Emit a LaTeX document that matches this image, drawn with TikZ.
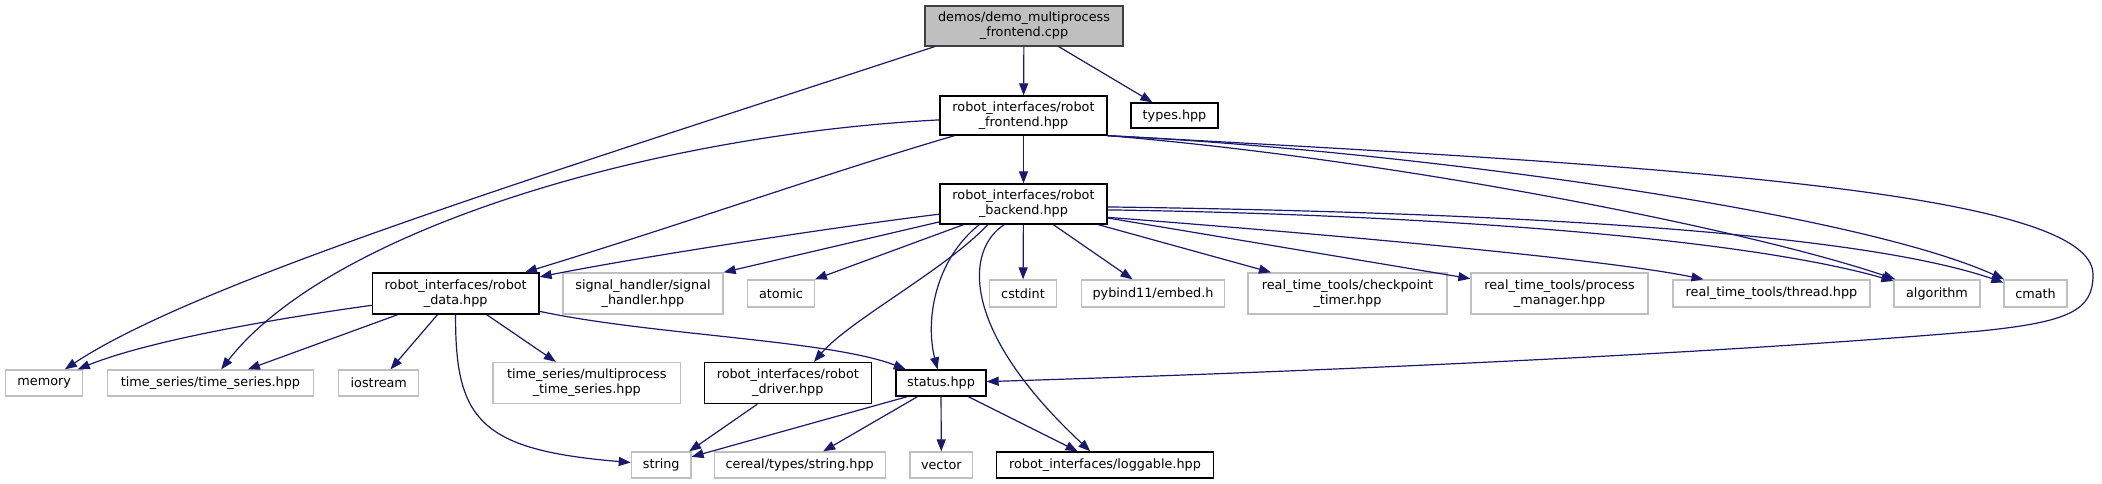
\documentclass[tikz,border=0pt]{standalone}
\usepackage{fontspec}
\setmainfont{DejaVu Sans}
\usetikzlibrary{arrows.meta}
\definecolor{navy}{HTML}{191970}
\definecolor{gbord}{HTML}{BFBFBF}
\definecolor{rootfill}{HTML}{BFBFBF}
\definecolor{rootbord}{HTML}{404040}
\tikzset{
  box/.style={draw=black, line width=1.3pt, fill=white, inner sep=0pt, align=center,
    font=\fontsize{12.8}{15}\selectfont},
  ext/.style={box, draw=gbord, line width=1.3pt},
  rootbox/.style={box, draw=rootbord, fill=rootfill},
  dep/.style={draw=navy, line width=1.2pt, -{Triangle[length=12pt,width=9pt]}},
}
\begin{document}
\begin{tikzpicture}[x=1pt,y=-1pt]
\useasboundingbox (0,0) rectangle (2102,484);
% nodes
\node[rootbox, minimum width=198pt, minimum height=40pt] (root) at (1024,26) {demos/demo\_multiprocess\\\_frontend.cpp};
\node[box, minimum width=167pt, minimum height=39pt] (frontend) at (1023.5,115.5) {robot\_interfaces/robot\\\_frontend.hpp};
\node[box, minimum width=87pt, minimum height=25pt] (types) at (1174.5,115.5) {types.hpp};
\node[box, minimum width=167pt, minimum height=40pt] (backend) at (1023.5,204) {robot\_interfaces/robot\\\_backend.hpp};
\node[box, minimum width=166.5pt, minimum height=41pt] (robot_data) at (455.7,293.5) {robot\_interfaces/robot\\\_data.hpp};
\node[ext, minimum width=160pt, minimum height=41pt] (signal_handler) at (643,293.5) {signal\_handler/signal\\\_handler.hpp};
\node[ext, minimum width=66.5pt, minimum height=27pt] (atomic) at (781,293.5) {atomic};
\node[ext, minimum width=66.5pt, minimum height=27pt] (cstdint) at (1023,293.5) {cstdint};
\node[ext, minimum width=143.5pt, minimum height=27pt] (pybind11) at (1153,293.5) {pybind11/embed.h};
\node[ext, minimum width=199pt, minimum height=41pt] (checkpoint) at (1347.5,293.5) {real\_time\_tools/checkpoint\\\_timer.hpp};
\node[ext, minimum width=177pt, minimum height=41pt] (process_manager) at (1559.5,293.5) {real\_time\_tools/process\\\_manager.hpp};
\node[ext, minimum width=197pt, minimum height=27pt] (thread) at (1771.5,293.5) {real\_time\_tools/thread.hpp};
\node[ext, minimum width=86pt, minimum height=27pt] (algorithm) at (1937,293.5) {algorithm};
\node[ext, minimum width=63pt, minimum height=27pt] (cmath) at (2035.5,293.5) {cmath};
\node[ext, minimum width=77pt, minimum height=26pt] (memory) at (44.2,383) {memory};
\node[ext, minimum width=206pt, minimum height=26pt] (time_series) at (210.5,383) {time\_series/time\_series.hpp};
\node[ext, minimum width=80pt, minimum height=26pt] (iostream) at (378.8,383) {iostream};
\node[ext, minimum width=187.5pt, minimum height=41pt] (multiprocess) at (586.8,383) {time\_series/multiprocess\\\_time\_series.hpp};
\node[box, minimum width=167pt, minimum height=41pt] (robot_driver) at (787.8,383) {robot\_interfaces/robot\\\_driver.hpp};
\node[box, minimum width=90pt, minimum height=26pt] (status) at (941,383) {status.hpp};
\node[ext, minimum width=59.6pt, minimum height=26pt] (string) at (661.2,465) {string};
\node[ext, minimum width=171pt, minimum height=26pt] (cereal) at (799.7,465) {cereal/types/string.hpp};
\node[ext, minimum width=62.7pt, minimum height=26pt] (vector) at (941.3,465) {vector};
\node[box, minimum width=216.7pt, minimum height=26pt] (loggable) at (1105,465) {robot\_interfaces/loggable.hpp};
% root edges
\draw[dep] (root) -- (frontend);
\draw[dep] (root) -- (types);
\draw[dep] (root.193) .. controls (560,170) and (200,280) .. (memory);
% frontend edges
\draw[dep] (frontend) -- (backend);
\draw[dep] (frontend) .. controls (830,172) and (690,222) .. (robot_data);
\draw[dep] (frontend) .. controls (650,135) and (330,230) .. (time_series);
\draw[dep] (frontend.south east) .. controls (1400,160) and (1750,230) .. (algorithm);
\draw[dep] (frontend.south east) .. controls (1400,150) and (1850,210) .. (cmath);
\draw[dep] (frontend.south east) .. controls (1650,165) and (2095,190) .. (2093,275)
  .. controls (2093,310) and (2070,322) .. (1980,331)
  .. controls (1700,355) and (1300,372) .. (status);
% backend edges
\draw[dep] (backend) .. controls (850,225) and (650,255) .. (robot_data);
\draw[dep] (backend.192) -- (signal_handler.north east);
\draw[dep] (backend.199.5) -- (atomic.north east);
\draw[dep] (backend.205.8) .. controls (935,260) and (925,320) .. (status);
\draw[dep] (backend.210.8) .. controls (945,270) and (850,320) .. (robot_driver.39);
\draw[dep] (backend.227) .. controls (965,250) and (960,330) .. (loggable);
\draw[dep] (backend) -- (cstdint);
\draw[dep] (backend) -- (pybind11);
\draw[dep] (backend) -- (checkpoint);
\draw[dep] (backend) -- (process_manager);
\draw[dep] (backend.351) .. controls (1400,240) and (1620,262) .. (thread);
\draw[dep] (backend.356) .. controls (1450,215) and (1750,240) .. (algorithm);
\draw[dep] (backend.358) .. controls (1480,212) and (1850,230) .. (cmath);
% robot_data edges
\draw[dep] (robot_data.188) .. controls (280,318) and (150,340) .. (memory);
\draw[dep] (robot_data) -- (time_series);
\draw[dep] (robot_data) -- (iostream);
\draw[dep] (robot_data) -- (multiprocess);
\draw[dep] (robot_data) .. controls (455,420) and (480,450) .. (string);
\draw[dep] (robot_data.348) .. controls (650,335) and (830,340) .. (status);
% lower edges
\draw[dep] (robot_driver) -- (string.26);
\draw[dep] (status.202) -- (string.15);
\draw[dep] (status) -- (cereal);
\draw[dep] (status) -- (vector);
\draw[dep] (status) -- (loggable);
\end{tikzpicture}
\end{document}
